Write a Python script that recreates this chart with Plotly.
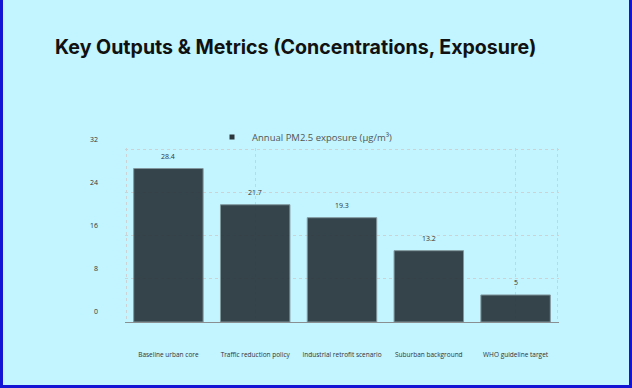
import plotly.graph_objects as go

categories = ["Baseline urban core", "Traffic reduction policy", "Industrial retrofit scenario",
              "Suburban background", "WHO guideline target"]
pm25_values = [28.4, 21.7, 19.3, 13.2, 5]
y_ticks = [0, 8, 16, 24, 32]
series_name = "Annual PM2.5 exposure (µg/m³)"
title_text = "Key Outputs & Metrics (Concentrations, Exposure)"

W, H = 632, 388
ML, MR, MT, MB = 125, 73, 148, 66
PW, PH = W - ML - MR, H - MT - MB

bar_color = "#2b373d"
grid_color = "#cdd2d4"

fig = go.Figure()
fig.add_trace(go.Bar(
    x=categories, y=pm25_values,
    marker=dict(color=bar_color, line=dict(color="#7d9096", width=1)),
    opacity=0.93, width=0.8, showlegend=False,
    hoverinfo="skip",
))
# legend entry (small square marker)
fig.add_trace(go.Scatter(
    x=[None], y=[None], mode="markers", name=series_name, xaxis="x2",
    marker=dict(symbol="square", size=5, color=bar_color),
))

annotations = [dict(x=c, y=v, xref="x", yref="y", text=f"{v:g}", showarrow=False,
                    yanchor="middle", yshift=12,
                    font=dict(size=7, color="#333333", family="Open Sans"))
               for c, v in zip(categories, pm25_values)]

fig.update_layout(
    width=W, height=H,
    margin=dict(l=ML, r=MR, t=MT, b=MB, pad=0, autoexpand=False),
    paper_bgcolor="#c2f5ff", plot_bgcolor="#c2f5ff",
    title=dict(text=f"<b>{title_text}</b>", x=55 / W, xanchor="left", xref="container",
               y=1 - 47 / H, yanchor="middle", yref="container",
               font=dict(family="Inter", size=19.6, color="#111111")),
    font=dict(family="Open Sans", color="#333333"),
    showlegend=True,
    legend=dict(orientation="h", xref="paper", x=(305 - ML) / PW, xanchor="center",
                yref="paper", y=1 + 11 / PH, yanchor="middle",
                font=dict(size=9.5, color="#555555", family="Open Sans"),
                bgcolor="rgba(0,0,0,0)", itemwidth=30),
    xaxis=dict(type="category", range=[-0.5, 4.5], showgrid=False, zeroline=False,
               showline=True, linecolor="#8a8f92", linewidth=1,
               ticks="", tickfont=dict(size=6.5, color="#333333", family="Open Sans"),
               ticklabelstandoff=26),
    xaxis2=dict(overlaying="x", range=[-0.5, 4.5], showgrid=True, gridcolor=grid_color,
                griddash="3px,3px", gridwidth=1, tickvals=[-0.485, 1, 4, 4.485],
                showticklabels=False, zeroline=False, showline=False, side="bottom"),
    yaxis=dict(range=[0, 32.2], tickvals=y_ticks, showgrid=True, gridcolor=grid_color,
               griddash="3px,3px", gridwidth=1, zeroline=False, showline=False,
               tickfont=dict(size=7, color="#333333", family="Open Sans"),
               ticklabelstandoff=26, ticklabelshift=-10),
    annotations=annotations,
    shapes=[dict(type="rect", xref="paper", yref="paper",
                 x0=-(ML - 1.5) / PW, x1=1 + (MR - 1.5) / PW,
                 y0=-(MB - 1.5) / PH, y1=1 + (MT + 5) / PH,
                 line=dict(color="#1414d4", width=3), layer="above")],
)

fig.write_html("out.html", post_script="document.body.style.margin='0';",
               config={"displayModeBar": False})
